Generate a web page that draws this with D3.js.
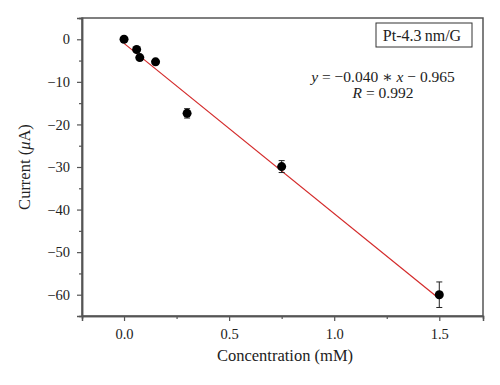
<!DOCTYPE html>
<html>
<head>
<meta charset="utf-8">
<script src="https://cdn.jsdelivr.net/npm/d3@7"></script>
<style>
  body { margin: 0; background: #fff; }
  text { font-family: "Liberation Serif", "DejaVu Serif", serif; fill: #222; }
</style>
</head>
<body>
<svg id="chart" width="500" height="385"></svg>
<script>
// data
var conc = [0, 0.06, 0.075, 0.15, 0.3, 0.75, 1.5];
var current = [0, -2.4, -4.3, -5.3, -17.4, -29.9, -60];
var errs = [0, 0, 0, 0, 1.1, 1.4, 3];
var fitSlope = -40, fitIntercept = -0.965;
var xTicks = [0, 0.5, 1.0, 1.5];
var yTicks = [0, -10, -20, -30, -40, -50, -60];

var margin = {top: 18, right: 17, bottom: 69, left: 82}
  , width = 500 - margin.left - margin.right
  , height = 385 - margin.top - margin.bottom;

var svg = d3.select("#chart");
var g = svg.append("g")
    .attr("transform", "translate(" + margin.left + "," + margin.top + ")");

var x = d3.scaleLinear().domain([-0.2, 1.708]).range([0, width]);
var y = d3.scaleLinear().domain([5, -65]).range([0, height]);

// frame
g.append("rect")
    .attr("width", width).attr("height", height)
    .attr("fill", "none").attr("stroke", "#555").attr("stroke-width", 1.5);

// axes, ticks pointing out
g.append("g")
    .attr("transform", "translate(0," + height + ")")
    .call(d3.axisBottom(x).tickValues(xTicks).tickFormat(d3.format(".1f")).tickSize(5).tickPadding(8));
g.append("g")
    .attr("transform", "translate(0," + height + ")")
    .call(d3.axisBottom(x).tickValues([0.25, 0.75, 1.25]).tickFormat("").tickSize(3));

g.append("g")
    .call(d3.axisLeft(y).tickValues(yTicks).tickFormat(d => d < 0 ? "\u2212" + Math.abs(d) : d).tickSize(5).tickPadding(7));
g.append("g")
    .call(d3.axisLeft(y).tickValues([5, -5, -15, -25, -35, -45, -55]).tickFormat("").tickSize(3));

g.selectAll(".domain").attr("stroke", "#555").attr("stroke-width", 1.5);
g.selectAll(".tick line").attr("stroke", "#555").attr("stroke-width", 1.2);
g.selectAll(".tick text")
    .style("font-family", "'Liberation Serif', serif")
    .style("font-size", "14.5px")
    .attr("fill", "#222");

// fit line
g.append("line")
    .attr("x1", x(0)).attr("y1", y(fitIntercept))
    .attr("x2", x(1.5)).attr("y2", y(fitSlope * 1.5 + fitIntercept))
    .attr("stroke", "#d42a2a").attr("stroke-width", 1.2);

// error bars
var pts = conc.map((c, i) => ({x: c, y: current[i], e: errs[i]}));
var eb = g.selectAll(".err").data(pts.filter(d => d.e > 0))
  .enter().append("g").attr("class", "err").attr("stroke", "#222").attr("stroke-width", 1);
eb.append("line")
    .attr("x1", d => x(d.x)).attr("x2", d => x(d.x))
    .attr("y1", d => y(d.y + d.e)).attr("y2", d => y(d.y - d.e));
eb.append("line")
    .attr("x1", d => x(d.x) - 3).attr("x2", d => x(d.x) + 3)
    .attr("y1", d => y(d.y + d.e)).attr("y2", d => y(d.y + d.e));
eb.append("line")
    .attr("x1", d => x(d.x) - 3).attr("x2", d => x(d.x) + 3)
    .attr("y1", d => y(d.y - d.e)).attr("y2", d => y(d.y - d.e));

// points
g.selectAll(".pt").data(pts)
  .enter().append("circle")
    .attr("class", "pt")
    .attr("cx", d => x(d.x)).attr("cy", d => y(d.y))
    .attr("r", 4.5).attr("fill", "#000");

// legend box
g.append("rect")
    .attr("x", 294).attr("y", 5).attr("width", 96).attr("height", 24)
    .attr("fill", "#fff").attr("stroke", "#333").attr("stroke-width", 1);
g.append("text")
    .attr("x", 340).attr("y", 22.5).attr("text-anchor", "middle")
    .style("font-size", "16px").text("Pt-4.3\u2009nm/G");

// equation
var eq = g.append("text")
    .attr("x", 301).attr("y", 64).attr("text-anchor", "middle")
    .style("font-size", "15.5px");
eq.append("tspan").style("font-style", "italic").text("y");
eq.append("tspan").text(" = \u22120.040 \u2217 ");
eq.append("tspan").style("font-style", "italic").text("x");
eq.append("tspan").text(" \u2212 0.965");
var rr = g.append("text")
    .attr("x", 301).attr("y", 80).attr("text-anchor", "middle")
    .style("font-size", "15.5px");
rr.append("tspan").style("font-style", "italic").text("R");
rr.append("tspan").text(" = 0.992");

// axis titles
svg.append("text")
    .attr("x", 285).attr("y", 361)
    .attr("text-anchor", "middle").style("font-size", "16.5px")
    .text("Concentration (mM)");
var yl = svg.append("text")
    .attr("transform", "translate(30," + (margin.top + height / 2) + ") rotate(-90)")
    .attr("text-anchor", "middle").style("font-size", "16.5px");
yl.append("tspan").text("Current (");
yl.append("tspan").style("font-style", "italic").text("\u03bc");
yl.append("tspan").text("A)");
</script>
</body>
</html>
